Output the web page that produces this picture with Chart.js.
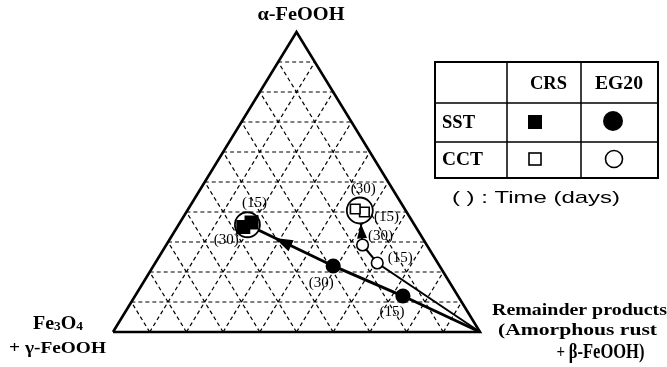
<!DOCTYPE html>
<html>
<head>
<meta charset="utf-8">
<script src="https://cdn.jsdelivr.net/npm/chart.js@4.4.1/dist/chart.umd.min.js"></script>
<style>
  html, body { margin: 0; padding: 0; background: #fff; }
  canvas { display: block; }
</style>
</head>
<body>
<canvas id="ternary" width="667" height="367"></canvas>
<script>
// compositions in % : [alpha-FeOOH, Fe3O4 + gamma-FeOOH, remainder products]
// index 0 = 15 days, index 1 = 30 days
const days = ["(15)", "(30)"];
const sstCRS = [[36.5, 44, 19.5], [35, 47, 18]];
const sstEG20 = [[12, 15, 73], [22, 29, 49]];
const cctCRS = [[40, 11.5, 48.5], [41, 13.5, 45.5]];
const cctEG20 = [[23, 16.5, 60.5], [29, 17.5, 53.5]];
const trendStart = [0, 0, 100];
const gridSteps = [10, 20, 30, 40, 50, 60, 70, 80, 90];

const SERIF = "'Liberation Serif', 'Times New Roman', serif";
const SANS = "'Liberation Sans', Arial, sans-serif";

// ternary -> cartesian (x along the base, y = alpha height)
function toXY(p) { return { x: p[2] + p[0] / 2, y: p[0] }; }
function mid(s) { return [0, 1, 2].map(k => (s[0][k] + s[1][k]) / 2); }
const gap = { x: null, y: null };

const gridPts = [];
gridSteps.forEach(v => {
  gridPts.push(toXY([v, 100 - v, 0]), toXY([v, 0, 100 - v]), gap);
  gridPts.push(toXY([0, v, 100 - v]), toXY([100 - v, v, 0]), gap);
  gridPts.push(toXY([0, 100 - v, v]), toXY([100 - v, 0, v]), gap);
});
const corners = [[0, 100, 0], [0, 0, 100], [100, 0, 0], [0, 100, 0]].map(toXY);

// offsets of the "(15)" / "(30)" labels from their marker, px
const labelOffsets = {
  5: [[3, -19], [-17, 13]],
  6: [[-11, 16], [-12, 17]],
  7: [[22, 5], [8, -20]],
  8: [[23, -5], [18, -9]]
};

function drawRuns(ctx, runs, cx, base, width) {
  let natural = 0;
  runs.forEach(r => { ctx.font = r[1]; natural += ctx.measureText(r[0]).width; });
  const sx = width ? width / natural : 1;
  ctx.save();
  ctx.translate(cx - natural * sx / 2, base);
  ctx.scale(sx, 1);
  let x = 0;
  runs.forEach(r => {
    ctx.font = r[1];
    ctx.fillText(r[0], x, r[2] || 0);
    x += ctx.measureText(r[0]).width;
  });
  ctx.restore();
}

function arrowHead(ctx, tip, from, len, half) {
  const dx = tip.x - from.x, dy = tip.y - from.y;
  const d = Math.hypot(dx, dy);
  const ux = dx / d, uy = dy / d;
  const bx = tip.x - ux * len, by = tip.y - uy * len;
  ctx.beginPath();
  ctx.moveTo(tip.x, tip.y);
  ctx.lineTo(bx - uy * half, by + ux * half);
  ctx.lineTo(bx + uy * half, by - ux * half);
  ctx.closePath();
  ctx.fill();
}

const overlay = {
  id: "overlay",
  afterDatasetsDraw(chart) {
    const ctx = chart.ctx;
    ctx.save();
    ctx.fillStyle = "#000";
    ctx.strokeStyle = "#000";
    ctx.textAlign = "left";
    ctx.textBaseline = "alphabetic";

    // arrowheads
    const sst = chart.getDatasetMeta(2).data;
    const a0 = sst[2], a1 = sst[3];
    const tip1 = { x: a0.x + (a1.x - a0.x) * 0.68, y: a0.y + (a1.y - a0.y) * 0.68 };
    arrowHead(ctx, tip1, a0, 18, 6);
    const cct = chart.getDatasetMeta(3).data;
    const b0 = cct[2], b1 = cct[3];
    const bd = Math.hypot(b1.x - b0.x, b1.y - b0.y);
    const tip2 = { x: b1.x - (b1.x - b0.x) / bd * 13, y: b1.y - (b1.y - b0.y) / bd * 13 };
    arrowHead(ctx, tip2, b0, 15, 5);

    // time labels
    ctx.font = "15px " + SERIF;
    ctx.textAlign = "center";
    ctx.textBaseline = "middle";
    Object.keys(labelOffsets).forEach(idx => {
      const pts = chart.getDatasetMeta(+idx).data;
      pts.forEach((p, i) => {
        const o = labelOffsets[idx][i];
        ctx.fillText(days[i], p.x + o[0], p.y + o[1]);
      });
    });
    ctx.textAlign = "left";
    ctx.textBaseline = "alphabetic";

    // corner titles
    const B17 = "bold 17px " + SERIF, B12 = "bold 12px " + SERIF;
    drawRuns(ctx, [["α-FeOOH", "bold 18px " + SERIF]], 301, 20, 87);
    drawRuns(ctx, [["Fe", "bold 18px " + SERIF], ["3", B12, 1], ["O", "bold 18px " + SERIF], ["4", B12, 1]], 58, 329, 50);
    drawRuns(ctx, [["+ γ-FeOOH", B17]], 57.5, 353, 97);
    drawRuns(ctx, [["Remainder products", B17]], 579.5, 315, 175);
    drawRuns(ctx, [["(Amorphous rust", B17]], 577.5, 335, 159);
    drawRuns(ctx, [["+ ", "bold 18px " + SERIF], ["β-FeOOH)", "bold 20px " + SERIF]], 600.5, 358, 88);

    // legend table
    ctx.lineWidth = 2;
    ctx.strokeRect(435, 62, 223, 116);
    ctx.lineWidth = 1.5;
    ctx.beginPath();
    ctx.moveTo(507, 62); ctx.lineTo(507, 178);
    ctx.moveTo(581, 62); ctx.lineTo(581, 178);
    ctx.moveTo(435, 103); ctx.lineTo(658, 103);
    ctx.moveTo(435, 142); ctx.lineTo(658, 142);
    ctx.stroke();
    const B18 = "bold 18px " + SERIF;
    drawRuns(ctx, [["CRS", B18]], 548.5, 89, 37);
    drawRuns(ctx, [["EG20", B18]], 619, 89, 48);
    drawRuns(ctx, [["SST", B18]], 458.5, 128, 33);
    drawRuns(ctx, [["CCT", B18]], 462.5, 165, 41);
    ctx.fillRect(528, 115, 14, 14);
    ctx.beginPath(); ctx.arc(613, 121, 10, 0, Math.PI * 2); ctx.fill();
    ctx.lineWidth = 1.6;
    ctx.strokeRect(529, 153, 12, 12);
    ctx.beginPath(); ctx.arc(614, 159, 8.5, 0, Math.PI * 2); ctx.stroke();
    drawRuns(ctx, [["( ) : Time (days)", "17px " + SANS]], 536, 203, 168);

    ctx.restore();
  }
};

const pointSet = (series, style, radius, fill, order) => ({
  data: series.map(toXY),
  pointStyle: style,
  pointRadius: radius,
  pointBackgroundColor: fill,
  pointBorderColor: "#000",
  pointBorderWidth: 1.6,
  showLine: false,
  clip: false,
  order
});

new Chart(document.getElementById("ternary"), {
  type: "scatter",
  data: {
    datasets: [
      { data: gridPts, showLine: true, spanGaps: false, borderColor: "#000", borderWidth: 1.2,
        borderDash: [4, 3], pointRadius: 0, clip: false, order: 9 },
      { data: corners, showLine: true, borderColor: "#000", borderWidth: 2.6,
        borderJoinStyle: "miter", pointRadius: 0, clip: false, order: 8 },
      { data: [trendStart, sstEG20[0], sstEG20[1], mid(sstCRS)].map(toXY), showLine: true,
        borderColor: "#000", borderWidth: 3, pointRadius: 0, clip: false, order: 7 },
      { data: [trendStart, cctEG20[0], cctEG20[1], mid(cctCRS)].map(toXY), showLine: true,
        borderColor: "#000", borderWidth: 2, pointRadius: 0, clip: false, order: 6 },
      { data: [mid(sstCRS), mid(cctCRS)].map(toXY), pointRadius: [12.5, 13],
        pointBackgroundColor: "#fff", pointBorderColor: "#000", pointBorderWidth: 1.8,
        showLine: false, clip: false, order: 5 },
      pointSet(sstCRS, "rect", 8.8, "#000", 4),
      pointSet(sstEG20, "circle", 6.8, "#000", 3),
      pointSet(cctCRS, "rect", 6.8, "#fff", 2),
      pointSet(cctEG20, "circle", 5.8, "#fff", 1)
    ]
  },
  options: {
    responsive: false,
    animation: false,
    events: [],
    layout: { padding: { left: 113, right: 187, top: 32, bottom: 35 } },
    scales: {
      x: { type: "linear", min: 0, max: 100, display: false },
      y: { type: "linear", min: 0, max: 100, display: false }
    },
    plugins: { legend: { display: false }, tooltip: { enabled: false } }
  },
  plugins: [overlay]
});
</script>
</body>
</html>
